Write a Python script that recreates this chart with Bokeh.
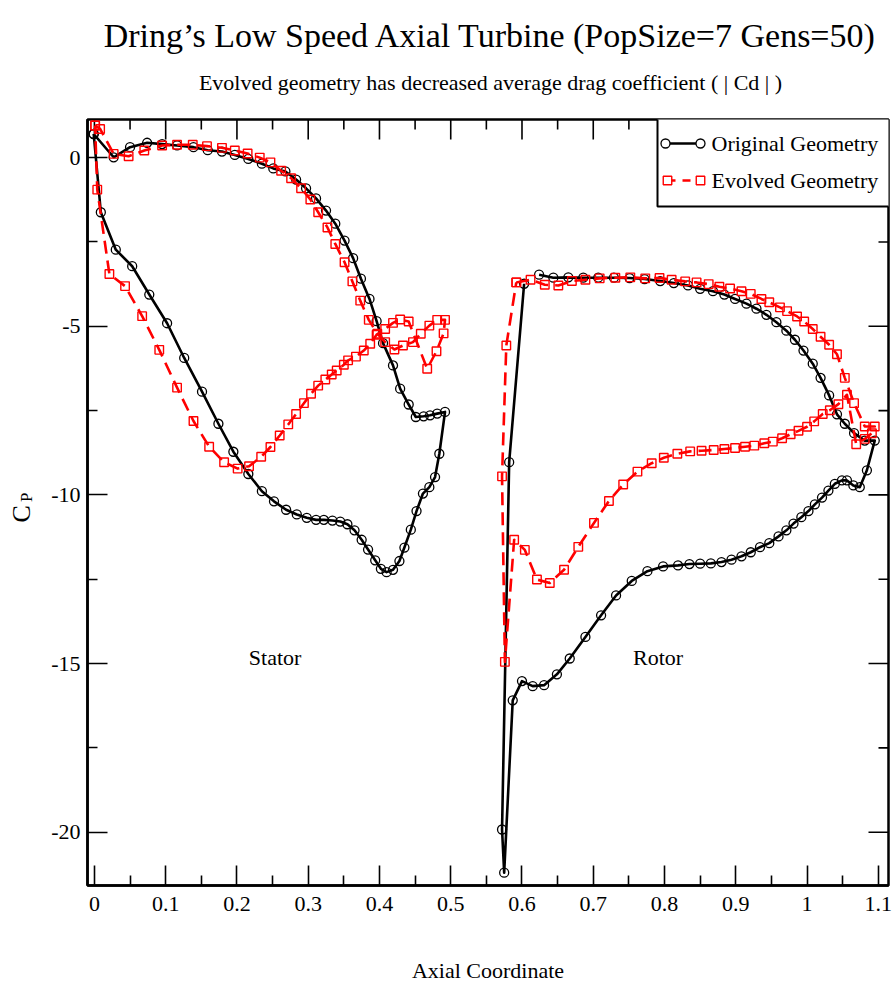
from bokeh.plotting import figure
from bokeh.layouts import column, row
from bokeh.models import Range1d, FixedTicker, Label
from bokeh.core.properties import value
from bokeh.embed import file_html
from bokeh.resources import INLINE

# ---------------------------------------------------------------------------
# Pressure coefficient around the blades: (axial coordinate, Cp)
# Each profile is a loop starting at the leading edge.
# ---------------------------------------------------------------------------
stator_original = [
    (-0.001, 0.70), (0.027, 0.01), (0.050, 0.31), (0.074, 0.44), (0.095, 0.40),
    (0.116, 0.36), (0.139, 0.31), (0.159, 0.22), (0.179, 0.18), (0.197, 0.08),
    (0.216, -0.04), (0.235, -0.18), (0.251, -0.32), (0.268, -0.41), (0.283, -0.65),
    (0.297, -0.91), (0.311, -1.21), (0.325, -1.57), (0.338, -1.96), (0.351, -2.46),
    (0.363, -2.98), (0.374, -3.59), (0.386, -4.19), (0.396, -4.85), (0.405, -5.50),
    (0.419, -6.16), (0.429, -6.85), (0.441, -7.32), (0.451, -7.69), (0.462, -7.67),
    (0.471, -7.64), (0.481, -7.59), (0.492, -7.54), (0.484, -8.78), (0.478, -9.47),
    (0.470, -9.77), (0.461, -9.96), (0.452, -10.48), (0.444, -11.03), (0.435, -11.56),
    (0.428, -11.96), (0.419, -12.22), (0.410, -12.29), (0.402, -12.19), (0.394, -11.94),
    (0.384, -11.62), (0.375, -11.33), (0.365, -11.05), (0.355, -10.87), (0.345, -10.79),
    (0.334, -10.76), (0.322, -10.74), (0.311, -10.74), (0.298, -10.68), (0.284, -10.58),
    (0.269, -10.44), (0.252, -10.19), (0.235, -9.89), (0.216, -9.38), (0.195, -8.72),
    (0.174, -7.89), (0.151, -6.94), (0.126, -5.94), (0.102, -4.91), (0.077, -4.06),
    (0.053, -3.22), (0.030, -2.73), (0.009, -1.62), (-0.001, 0.70),
]

stator_evolved = [
    (0.001, 0.95), (0.008, 0.85), (0.027, 0.11), (0.048, 0.04), (0.070, 0.21),
    (0.095, 0.36), (0.116, 0.38), (0.138, 0.38), (0.158, 0.34), (0.179, 0.29),
    (0.197, 0.21), (0.215, 0.12), (0.232, 0.00), (0.247, -0.14), (0.262, -0.39),
    (0.276, -0.61), (0.290, -0.91), (0.303, -1.24), (0.314, -1.62), (0.327, -2.07),
    (0.338, -2.56), (0.351, -3.10), (0.362, -3.67), (0.373, -4.24), (0.385, -4.81),
    (0.397, -5.22), (0.408, -5.47), (0.421, -5.69), (0.433, -5.57), (0.447, -5.47),
    (0.458, -5.22), (0.470, -4.98), (0.481, -4.81), (0.492, -4.81), (0.490, -5.21),
    (0.480, -5.74), (0.467, -6.26), (0.441, -4.86), (0.429, -4.80), (0.419, -4.90),
    (0.408, -5.08), (0.396, -5.25), (0.387, -5.52), (0.378, -5.72), (0.367, -5.90),
    (0.356, -6.01), (0.350, -6.14), (0.340, -6.31), (0.333, -6.43), (0.324, -6.58),
    (0.314, -6.76), (0.304, -7.00), (0.294, -7.28), (0.283, -7.60), (0.272, -7.91),
    (0.260, -8.24), (0.247, -8.58), (0.234, -8.87), (0.217, -9.15), (0.201, -9.22),
    (0.182, -9.03), (0.161, -8.57), (0.139, -7.81), (0.116, -6.82), (0.091, -5.70),
    (0.067, -4.70), (0.043, -3.81), (0.021, -3.45), (0.004, -0.95), (0.001, 0.95),
]

rotor_original = [
    (0.624, -3.47), (0.644, -3.56), (0.665, -3.55), (0.686, -3.56), (0.707, -3.56),
    (0.729, -3.56), (0.751, -3.57), (0.772, -3.60), (0.794, -3.66), (0.813, -3.72),
    (0.833, -3.79), (0.850, -3.89), (0.868, -3.96), (0.884, -4.06), (0.899, -4.19),
    (0.915, -4.33), (0.929, -4.48), (0.943, -4.66), (0.957, -4.88), (0.971, -5.13),
    (0.983, -5.40), (0.995, -5.72), (1.008, -6.11), (1.019, -6.53), (1.031, -7.05),
    (1.042, -7.61), (1.053, -7.89), (1.066, -8.17), (1.081, -8.39), (1.095, -8.39),
    (1.084, -9.27), (1.074, -9.77), (1.065, -9.72), (1.056, -9.57), (1.049, -9.57),
    (1.039, -9.67), (1.030, -9.87), (1.021, -10.08), (1.011, -10.28), (1.002, -10.48),
    (0.992, -10.66), (0.981, -10.85), (0.971, -11.05), (0.960, -11.23), (0.947, -11.43),
    (0.934, -11.55), (0.921, -11.70), (0.908, -11.82), (0.894, -11.92), (0.880, -11.99),
    (0.865, -12.03), (0.850, -12.04), (0.835, -12.05), (0.819, -12.09), (0.798, -12.12),
    (0.776, -12.26), (0.754, -12.55), (0.732, -12.98), (0.711, -13.57), (0.689, -14.21),
    (0.667, -14.85), (0.649, -15.32), (0.631, -15.64), (0.615, -15.67), (0.600, -15.52),
    (0.587, -16.09), (0.575, -21.20), (0.572, -19.92), (0.582, -9.03), (0.603, -3.74),
]

rotor_evolved = [
    (0.592, -3.70), (0.612, -3.62), (0.632, -3.77), (0.651, -3.79), (0.670, -3.66),
    (0.689, -3.62), (0.709, -3.58), (0.731, -3.56), (0.752, -3.55), (0.773, -3.58),
    (0.793, -3.57), (0.810, -3.62), (0.829, -3.67), (0.845, -3.70), (0.862, -3.75),
    (0.877, -3.83), (0.892, -3.88), (0.908, -3.96), (0.921, -4.04), (0.936, -4.19),
    (0.947, -4.29), (0.962, -4.44), (0.972, -4.55), (0.986, -4.71), (0.996, -4.86),
    (1.008, -5.08), (1.019, -5.31), (1.031, -5.55), (1.042, -5.83), (1.053, -6.53),
    (1.066, -7.28), (1.081, -7.97), (1.095, -7.97), (1.091, -8.17), (1.081, -8.34),
    (1.069, -8.50), (1.056, -7.03), (1.044, -7.31), (1.032, -7.49), (1.022, -7.60),
    (1.010, -7.82), (1.000, -7.98), (0.988, -8.10), (0.977, -8.20), (0.965, -8.32),
    (0.952, -8.42), (0.940, -8.47), (0.926, -8.54), (0.913, -8.57), (0.899, -8.61),
    (0.884, -8.64), (0.869, -8.67), (0.852, -8.69), (0.836, -8.71), (0.818, -8.78),
    (0.799, -8.90), (0.782, -9.06), (0.762, -9.31), (0.742, -9.69), (0.722, -10.18),
    (0.701, -10.83), (0.679, -11.54), (0.659, -12.22), (0.639, -12.61), (0.621, -12.51),
    (0.604, -11.63), (0.589, -11.33), (0.576, -14.95), (0.572, -9.45), (0.578, -5.57),
    (0.592, -3.70),
]

x_ticks = [0, 0.1, 0.2, 0.3, 0.4, 0.5, 0.6, 0.7, 0.8, 0.9, 1.0, 1.1]
x_tick_labels = ["0", "0.1", "0.2", "0.3", "0.4", "0.5", "0.6", "0.7", "0.8", "0.9", "1", "1.1"]
x_minor_ticks = [0.05, 0.15, 0.25, 0.35, 0.45, 0.55, 0.65, 0.75, 0.85, 0.95, 1.05]
y_ticks = [-20, -15, -10, -5, 0]
y_tick_labels = ["-20", "-15", "-10", "-5", "0"]
y_minor_ticks = [-17.5, -12.5, -7.5, -2.5]

series_names = ["Original Geometry", "Evolved Geometry"]
region_names = ["Stator", "Rotor"]
region_x = [0.2535, 0.791]
region_cp = [-14.82, -14.82]

title_text = "Dring\u2019s Low Speed Axial Turbine (PopSize=7 Gens=50)"
subtitle_text = "Evolved geometry has decreased average drag coefficient ( | Cd | )"
x_label_text = "Axial Coordinate"

# ---------------------------------------------------------------------------
# Page geometry (pixels)
# ---------------------------------------------------------------------------
PAGE_W, PAGE_H = 896, 992
TOP_H = 112          # strip holding the two title lines
LEFT_W = 40          # strip holding the rotated Cp label
FRAME_LEFT, FRAME_TOP = 87, 119
FRAME_W, FRAME_H = 801, 766
FONT = "Liberation Serif"
RED = "#ff0000"

X_LO, X_HI = -0.0097, 1.1143
Y_LO, Y_HI = -21.58, 1.13
MAJOR_LEN, MINOR_LEN = 20, 10


def blank_figure(width, height, x_range, y_range):
    f = figure(width=width, height=height, x_range=x_range, y_range=y_range,
               output_backend="svg", toolbar_location=None, title=None,
               x_axis_type=None, y_axis_type=None,
               min_border=0, outline_line_color=None,
               background_fill_color="white", border_fill_color="white")
    return f


# ---- title strip (page coordinates, y grows downward) -----------------------
top = blank_figure(PAGE_W, TOP_H, Range1d(0, PAGE_W), Range1d(TOP_H, 0))
top.text(x=[490], y=[35], text=[title_text], text_font=value(FONT),
         text_font_size="34px", text_align="center", text_baseline="alphabetic",
         text_color="black")
top.text(x=[490], y=[82], text=[subtitle_text], text_font=value(FONT),
         text_font_size="22px", text_align="center", text_baseline="alphabetic",
         text_color="black")

# ---- y-axis name strip: C with subscript P -----------------------------------
left = blank_figure(LEFT_W, PAGE_H - TOP_H, Range1d(0, LEFT_W), Range1d(PAGE_H, TOP_H))
left.text(x=[21], y=[565], text=["C"], angle=1.5708, text_font=value(FONT),
          text_font_size="26px", text_align="center", text_baseline="middle",
          text_color="black")
left.text(x=[26], y=[546], text=["P"], angle=1.5708, text_font=value(FONT),
          text_font_size="17px", text_align="center", text_baseline="middle",
          text_color="black")

# ---- main plot ----------------------------------------------------------------
p = figure(
    width=PAGE_W - LEFT_W, height=PAGE_H - TOP_H,
    x_range=Range1d(X_LO, X_HI), y_range=Range1d(Y_LO, Y_HI),
    output_backend="svg", toolbar_location=None, title=None,
    min_border_left=FRAME_LEFT - LEFT_W,
    min_border_right=PAGE_W - FRAME_LEFT - FRAME_W,
    min_border_top=FRAME_TOP - TOP_H,
    min_border_bottom=PAGE_H - FRAME_TOP - FRAME_H,
    background_fill_color="white", border_fill_color="white",
)
p.grid.visible = False
p.outline_line_color = "black"
p.outline_line_width = 2.5

bottom_axis = p.below[0]
left_axis = p.left[0]
for ax, ticks, minor, labels in [(bottom_axis, x_ticks, x_minor_ticks, x_tick_labels),
                                 (left_axis, y_ticks, y_minor_ticks, y_tick_labels)]:
    ax.ticker = FixedTicker(ticks=ticks, minor_ticks=minor)
    ax.major_label_overrides = dict(zip(ticks, labels))
    ax.axis_line_width = 2.5
    ax.axis_line_color = "black"
    ax.major_tick_in = MAJOR_LEN
    ax.major_tick_out = 0
    ax.minor_tick_in = MINOR_LEN
    ax.minor_tick_out = 0
    ax.major_tick_line_width = 1.6
    ax.minor_tick_line_width = 1.6
    ax.major_tick_line_color = "black"
    ax.minor_tick_line_color = "black"
    ax.major_label_text_font = FONT
    ax.major_label_text_font_size = "22px"
    ax.major_label_text_color = "black"
bottom_axis.major_label_standoff = 11
left_axis.major_label_standoff = 7
bottom_axis.axis_label = x_label_text
bottom_axis.axis_label_text_font = FONT
bottom_axis.axis_label_text_font_size = "22px"
bottom_axis.axis_label_text_font_style = "normal"
bottom_axis.axis_label_text_color = "black"
bottom_axis.axis_label_standoff = 44

# Inward ticks along the top and right edges of the box
ux = (X_HI - X_LO) / FRAME_W
uy = (Y_HI - Y_LO) / FRAME_H
for ticks, length in [(x_ticks, MAJOR_LEN), (x_minor_ticks, MINOR_LEN)]:
    p.segment(x0=ticks, y0=[Y_HI] * len(ticks), x1=ticks, y1=[Y_HI - length * uy] * len(ticks),
              line_color="black", line_width=1.6)
for ticks, length in [(y_ticks, MAJOR_LEN), (y_minor_ticks, MINOR_LEN)]:
    p.segment(x0=[X_HI] * len(ticks), y0=ticks, x1=[X_HI - length * ux] * len(ticks), y1=ticks,
              line_color="black", line_width=1.6)


def draw_original(points):
    xs = [pt[0] for pt in points]
    ys = [pt[1] for pt in points]
    p.line(xs, ys, line_color="black", line_width=2.6, line_join="round")
    p.scatter(xs, ys, marker="circle", size=9, fill_color=None,
              line_color="black", line_width=1.3)


def draw_evolved(points):
    xs = [pt[0] for pt in points]
    ys = [pt[1] for pt in points]
    p.line(xs, ys, line_color=RED, line_width=2.6, line_dash="13 7", line_join="round")
    p.scatter(xs, ys, marker="square", size=8.5, fill_color=None,
              line_color=RED, line_width=1.4)


draw_original(stator_original)
draw_original(rotor_original)
draw_evolved(stator_evolved)
draw_evolved(rotor_evolved)

# Blade row names
for name, rx, ry in zip(region_names, region_x, region_cp):
    p.add_layout(Label(x=rx, y=ry, text=name, text_font=FONT, text_font_size="22px",
                       text_align="center", text_baseline="middle", text_color="black"))

# Legend in the top-right corner, laid out in frame pixels
p.extra_x_ranges = {"px": Range1d(0, FRAME_W)}
p.extra_y_ranges = {"px": Range1d(0, FRAME_H)}
p.quad(left=[570], right=[FRAME_W + 2], bottom=[679], top=[FRAME_H + 2], fill_color="white",
       line_color="black", line_width=2, x_range_name="px", y_range_name="px")
p.line([578, 613], [742, 742], line_color="black", line_width=2.6,
       x_range_name="px", y_range_name="px")
p.scatter([578, 613], [742, 742], marker="circle", size=9, fill_color="white",
          line_color="black", line_width=1.3, x_range_name="px", y_range_name="px")
p.line([580, 613], [705, 705], line_color=RED, line_width=2.6, line_dash="8 7",
       x_range_name="px", y_range_name="px")
p.scatter([580, 613], [705, 705], marker="square", size=8.5, fill_color="white",
          line_color=RED, line_width=1.4, x_range_name="px", y_range_name="px")
for name, row_y in zip(series_names, [742, 705]):
    p.add_layout(Label(x=624, y=row_y, x_units="screen", y_units="screen", text=name,
                       text_font=FONT, text_font_size="22px", text_baseline="middle",
                       text_color="black"))

page = column(top, row(left, p, spacing=0), spacing=0)
open("out.html", "w").write(file_html(page, INLINE))
